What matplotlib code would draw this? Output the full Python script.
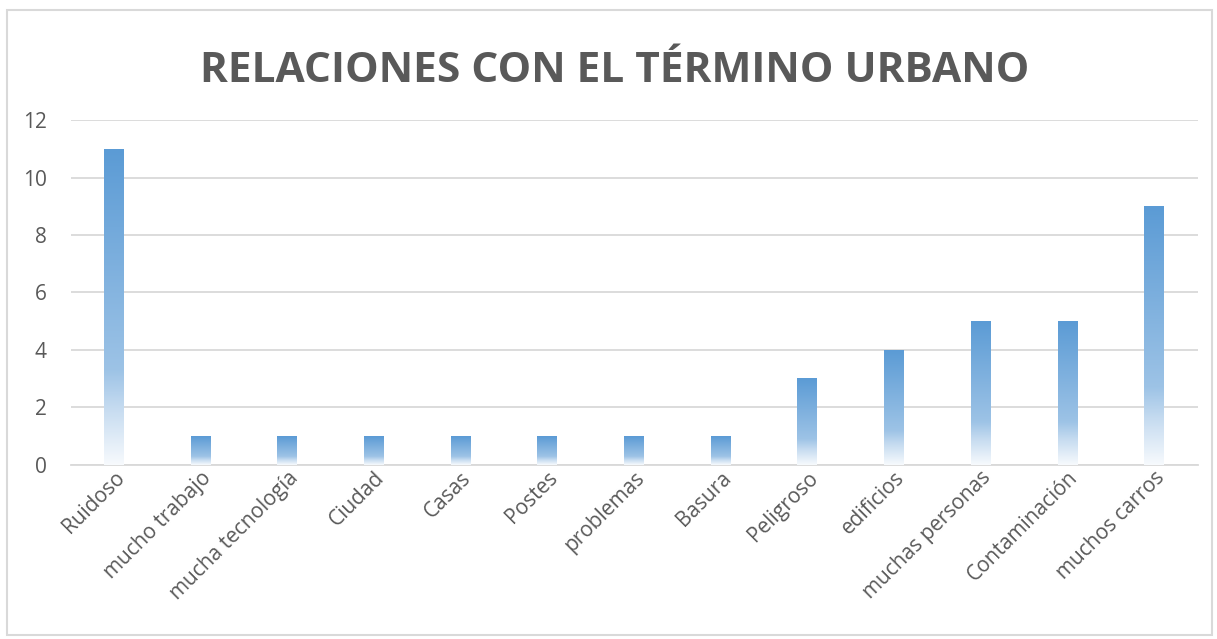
import numpy as np
import matplotlib
matplotlib.use("Agg")
import matplotlib.pyplot as plt
from matplotlib.colors import LinearSegmentedColormap
from matplotlib.patches import Rectangle

categories = ["Ruidoso", "mucho trabajo", "mucha tecnología", "Ciudad", "Casas",
              "Postes", "problemas", "Basura", "Peligroso", "edificios",
              "muchas personas", "Contaminación", "muchos carros"]
values = [11, 1, 1, 1, 1, 1, 1, 1, 3, 4, 5, 5, 9]
y_ticks = [0, 2, 4, 6, 8, 10, 12]
title = "RELACIONES CON EL TÉRMINO URBANO"

TEXT = "#595959"
GRID = "#D9D9D9"

# bottom of bar -> top of bar
grad = LinearSegmentedColormap.from_list(
    "bar", [(0.0, "#F7FAFD"), (0.18, "#C5DBF0"), (0.3, "#9DC3E6"),
            (1.0, "#5B9BD5")])


def main():
    plt.rcParams["font.family"] = ["Open Sans", "DejaVu Sans"]
    fig = plt.figure(figsize=(12.17, 6.39), dpi=100)
    ax = fig.add_axes([0.058, 0.273, 0.926, 0.539])

    x = np.arange(len(categories))
    bars = ax.bar(x, values, width=0.23, color="none", zorder=3)

    gradient = np.linspace(0, 1, 256).reshape(-1, 1)
    for b in bars:
        x0, y0 = b.get_x(), b.get_y()
        w, h = b.get_width(), b.get_height()
        im = ax.imshow(gradient, cmap=grad, origin="lower", aspect="auto",
                       extent=(x0, x0 + w, y0, y0 + h), zorder=3)
        im.set_clip_path(b)

    ax.set_xlim(-0.5, len(categories) - 0.5)
    ax.set_ylim(0, 12)
    ax.set_yticks(y_ticks)
    ax.yaxis.grid(True, color=GRID, linewidth=1.3)
    ax.set_axisbelow(True)
    for s in ["top", "right", "left"]:
        ax.spines[s].set_visible(False)
    ax.spines["bottom"].set_color(GRID)
    ax.spines["bottom"].set_linewidth(1.3)
    ax.tick_params(axis="both", length=0, colors=TEXT, labelsize=15)
    ax.tick_params(axis="y", pad=17)
    ax.tick_params(axis="x", pad=2)
    ax.set_xticks(x)
    ax.set_xticklabels(categories, rotation=45, ha="right",
                       rotation_mode="anchor")

    fig.text(0.505, 0.888, title, ha="center", va="center", fontsize=30.5,
             fontweight="bold", color=TEXT)

    fig.patches.append(Rectangle((0.006, 0.006), 0.99, 0.979,
                                 transform=fig.transFigure, fill=False,
                                 edgecolor="#D9D9D9", linewidth=1.5))

    fig.savefig("out.png", dpi=100)


if __name__ == '__main__':
    main()
